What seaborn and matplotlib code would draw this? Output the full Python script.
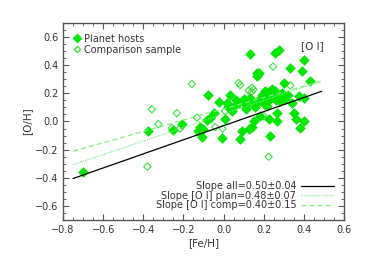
import numpy as np
import pandas as pd
import matplotlib
matplotlib.use("Agg")
import matplotlib.pyplot as plt
import seaborn as sns
from matplotlib.lines import Line2D
from matplotlib.ticker import MultipleLocator, FuncFormatter

# planet hosts (filled diamonds)
host_feh = [-0.70, -0.375, -0.25, -0.208, -0.125, -0.117, -0.108, -0.083, -0.075, -0.067,
            -0.05, -0.025, -0.008, 0.008, 0.017, 0.033, 0.04, 0.06, 0.07, 0.083,
            0.092, 0.10, 0.11, 0.125, 0.133, 0.133, 0.142, 0.15, 0.15, 0.158,
            0.167, 0.167, 0.167, 0.175, 0.183, 0.20, 0.20, 0.208, 0.21, 0.225,
            0.225, 0.23, 0.233, 0.24, 0.25, 0.258, 0.258, 0.267, 0.267, 0.275,
            0.275, 0.283, 0.30, 0.308, 0.333, 0.342, 0.35, 0.36, 0.375, 0.383,
            0.392, 0.40, 0.40, 0.40, 0.433, 0.02, 0.05, 0.11, 0.12, 0.19,
            0.22, 0.245, 0.26, 0.29, 0.32, 0.215, 0.18, -0.10]
host_oh = [-0.36, -0.07, -0.061, -0.019, -0.066, -0.04, -0.11, 0.01, 0.19, 0.028,
           0.063, 0.14, -0.117, 0.016, 0.13, 0.19, 0.075, 0.15, 0.13, -0.124,
           -0.066, 0.16, 0.12, -0.054, 0.478, 0.17, -0.04, 0.134, 0.005, 0.10,
           0.345, 0.32, 0.134, 0.345, 0.157, 0.122, 0.17, 0.216, 0.20, 0.016,
           0.21, 0.16, -0.10, 0.23, 0.18, 0.485, 0.22, 0.063, 0.005, 0.509,
           0.17, 0.145, 0.274, 0.157, 0.38, 0.134, 0.063, 0.02, 0.18, -0.047,
           0.356, 0.44, 0.17, 0.005, 0.29, 0.10, 0.11, 0.09, 0.14, 0.19,
           0.18, 0.19, 0.15, 0.20, 0.19, 0.11, 0.04, -0.05]

# comparison sample (open diamonds)
comp_feh = [-0.38, -0.358, -0.325, -0.258, -0.233, -0.217, -0.158, -0.133, -0.042, -0.005,
            0.008, 0.075, 0.083, 0.125, 0.142, 0.15, 0.20, 0.225, 0.247, 0.333,
            0.14, 0.09]
comp_oh = [-0.32, 0.087, -0.019, -0.047, 0.059, -0.05, 0.267, 0.028, -0.04, -0.05,
           0.075, 0.274, 0.258, 0.22, 0.24, 0.227, 0.04, -0.25, 0.39, 0.256,
           0.21, 0.12]

# fitted lines (end points)
fit_x = [-0.75, 0.49]
fit_all = [-0.405, 0.215]
fit_plan = [-0.307, 0.288]
fit_comp = [-0.211, 0.286]
fit_labels = ["Slope all=0.50\u00b10.04",
              "Slope [O I] plan=0.48\u00b10.07",
              "Slope [O I] comp=0.40\u00b10.15"]

sns.set_style("ticks")
plt.rcParams["font.family"] = ["DejaVu Sans"]

green = "#00e600"
light = "#80f080"
open_col = "#44dd44"
axcol = "#555555"
txtcol = "#333333"

fig = plt.figure(figsize=(3.65, 2.61), dpi=100)
ax = fig.add_axes([0.173, 0.157, 0.769, 0.755])

hosts = pd.DataFrame({"feh": host_feh, "oh": host_oh})
comps = pd.DataFrame({"feh": comp_feh, "oh": comp_oh})

sns.scatterplot(data=comps, x="feh", y="oh", ax=ax, marker="D", s=14,
                facecolor="none", edgecolor=open_col, linewidth=0.8)
sns.scatterplot(data=hosts, x="feh", y="oh", ax=ax, marker="D", s=24,
                color=green, edgecolor=green, linewidth=0.5)

l1, = ax.plot(fit_x, fit_all, color="black", lw=0.9)
l2, = ax.plot(fit_x, fit_plan, color=light, lw=0.9, ls=(0, (1, 1)))
l3, = ax.plot(fit_x, fit_comp, color=light, lw=0.9, ls=(0, (4, 2.5)))

ax.set_xlim(-0.8, 0.6)
ax.set_ylim(-0.7, 0.7)
fmt = FuncFormatter(lambda v, p: f"{v:.1f}".replace("-", "\u2212"))
for axis in (ax.xaxis, ax.yaxis):
    axis.set_major_locator(MultipleLocator(0.2))
    axis.set_minor_locator(MultipleLocator(0.05))
    axis.set_major_formatter(fmt)
ax.tick_params(which="both", direction="in", top=True, right=True,
               colors=axcol, labelcolor=txtcol, labelsize=7)
ax.tick_params(which="major", length=4, width=0.8)
ax.tick_params(which="minor", length=2, width=0.6)
for sp in ax.spines.values():
    sp.set_color(axcol)
    sp.set_linewidth(1.0)

ax.set_xlabel("[Fe/H]", fontsize=7.5, color=txtcol, labelpad=2)
ax.set_ylabel("[O/H]", fontsize=7.5, color=txtcol, labelpad=2)

ax.text(0.93, 0.91, "[O I]", transform=ax.transAxes, ha="right", va="top",
        fontsize=7.5, color=txtcol)

h1 = Line2D([], [], marker="D", color=green, ls="none", markersize=4)
h2 = Line2D([], [], marker="D", markerfacecolor="none", markeredgecolor=open_col,
            ls="none", markersize=3.2)
leg1 = ax.legend([h1, h2], ["Planet hosts", "Comparison sample"], loc="upper left",
                 frameon=False, fontsize=7, handlelength=0.6, handletextpad=0.4,
                 borderaxespad=0.7, borderpad=0.4, labelspacing=0.1, labelcolor=txtcol)
ax.add_artist(leg1)
ax.legend([l1, l2, l3], fit_labels, loc="lower right", frameon=False,
          fontsize=7, markerfirst=False, handlelength=3.4, handletextpad=0.5,
          labelspacing=-0.05, borderaxespad=0.6, labelcolor=txtcol)

fig.savefig("out.png", dpi=100)
